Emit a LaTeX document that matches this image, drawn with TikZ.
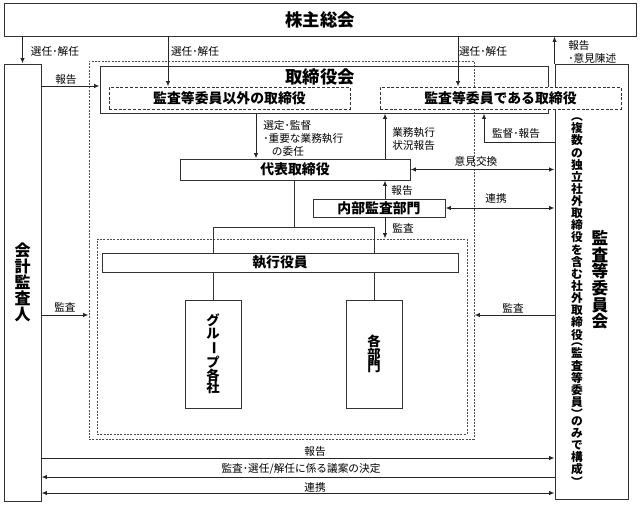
\documentclass[tikz,border=0pt]{standalone}
\usepackage{fontspec}
\setmainfont{Noto Sans CJK JP}
\usetikzlibrary{arrows.meta,fit}

\tikzset{
  box/.style={draw=black!80, line width=0.7pt, inner sep=0pt},
  dashbox/.style={box, fill=white, dash pattern=on 2.2pt off 1.4pt},
  dotframe/.style={draw=black!70, line width=0.7pt, inner sep=0pt, dash pattern=on 1.5pt off 1pt},
  boxtxt/.style={font=\fontsize{10.4}{12}\selectfont\bfseries, inner sep=0pt},
  ttl/.style={font=\fontsize{13}{15}\selectfont\bfseries, inner sep=0pt},
  lbl/.style={font=\fontsize{8}{9.5}\selectfont, inner sep=0pt},
  tate/.style={align=center, inner sep=0pt},
  arr/.style={draw=black!85, line width=0.7pt, -{Latex[length=4pt,width=3.2pt]}},
  dbl/.style={draw=black!85, line width=0.7pt, {Latex[length=4pt,width=3.2pt]}-{Latex[length=4pt,width=3.2pt]}},
  conn/.style={draw=black!80, line width=0.7pt},
}

\begin{document}
\begin{tikzpicture}[x=0.75pt, y=-0.75pt]
  \useasboundingbox (0,0) rectangle (640,506);

  % dotted frames
  \node[dotframe, fit={(89,61) (474,439)}] (outer) {};
  \node[dotframe, fit={(97,239) (467,434)}] (inner) {};

  % boxes
  \node[box, fit={(4,3) (636,36)}, label={[ttl]center:株主総会}] (soukai) {};
  \node[box, fit={(4,64) (41,501)},
    label={[tate, font=\fontsize{12}{12}\selectfont\bfseries]center:{会\\計\\監\\査\\人}}] (kaikei) {};
  \node[box, fit={(555,64) (628,499)}] (iinkai) {};
  \node[tate, font=\fontsize{8.8}{9.1}\selectfont\bfseries] (iinkaiSub) at (577,302)
    {︵\\複\\数\\の\\独\\立\\社\\外\\取\\締\\役\\を\\含\\む\\社\\外\\取\\締\\役\\[-4pt]︵\\監\\査\\等\\委\\員\\︶\\[-4pt]の\\み\\で\\構\\成\\︶};
  \node[tate, font=\fontsize{12.5}{12.5}\selectfont\bfseries] (iinkaiName) at (600,280) {監\\査\\等\\委\\員\\会};
  \node[box, fit={(100,66) (548,113)}] (torikai) {};
  \node[ttl] (torikaiName) at (320,77) {取締役会};
  \node[dashbox, fit={(109,87) (350,109)}, label={[boxtxt]center:監査等委員以外の取締役}] (igai) {};
  \node[dashbox, fit={(380,87) (621,109)}, label={[boxtxt]center:監査等委員である取締役}] (dearu) {};
  \node[box, fit={(180,159) (410,180)}, label={[boxtxt]center:代表取締役}] (daihyo) {};
  \node[box, fit={(313,199) (445,217)}, label={[boxtxt]center:内部監査部門}] (naibu) {};
  \node[box, fit={(102,253) (458,272)}, label={[boxtxt]center:執行役員}] (shikko) {};
  \node[box, fit={(185,300) (241,408)},
    label={[boxtxt, tate, font=\fontsize{10}{9.5}\selectfont\bfseries]center:{グ\\ル\\\rotatebox[origin=c]{-90}{ー}\\プ\\各\\社}}] (group) {};
  \node[box, fit={(346,300) (402,408)},
    label={[boxtxt, tate, font=\fontsize{10}{9.5}\selectfont\bfseries]center:{各\\部\\門}}] (kakubu) {};

  % helper columns and rows
  \foreach \n/\v in {B/168, C/458, E/256, F/385, G/484, T/294}
    \coordinate (x\n) at (\v,0);
  \foreach \v in {86, 142, 227, 315, 458, 477, 493}
    \coordinate (y\v) at (0,\v);

  % connectors
  \draw[arr] (soukai.south -| kaikei.north) -- (kaikei.north);
  \draw[arr] (soukai.south -| xB) -- (igai.north -| xB);
  \draw[arr] (soukai.south -| xC) -- (dearu.north -| xC);
  \draw[arr] (iinkai.north west) -- (iinkai.north west |- soukai.south);
  \draw[arr] (kaikei.east |- y86) -- (torikai.west |- y86);
  \draw[arr] (torikai.south -| xE) -- (daihyo.north -| xE);
  \draw[arr] (daihyo.north -| xF) -- (torikai.south -| xF);
  \draw[arr] (iinkai.west |- y142) -| (torikai.south -| xG);
  \draw[dbl] (daihyo.east) -- (daihyo.east -| iinkai.west);
  \draw[arr] (naibu.north -| xF) -- (daihyo.south -| xF);
  \draw[dbl] (naibu.east) -- (naibu.east -| iinkai.west);
  \draw[arr] (naibu.south -| xF) -- (inner.north -| xF);
  \draw[conn] (daihyo.south -| xT) -- (xT |- y227);
  \draw[conn] (shikko.north -| group.north) |- (y227 -| kakubu.north) -- (shikko.north -| kakubu.north);
  \draw[conn] (shikko.south -| group.north) -- (group.north);
  \draw[conn] (shikko.south -| kakubu.north) -- (kakubu.north);
  \draw[arr] (kaikei.east |- y315) -- (outer.west |- y315);
  \draw[arr] (iinkai.west |- y315) -- (outer.east |- y315);
  \draw[arr] (kaikei.east |- y458) -- (iinkai.west |- y458);
  \draw[arr] (iinkai.west |- y477) -- (kaikei.east |- y477);
  \draw[dbl] (kaikei.east |- y493) -- (iinkai.west |- y493);

  % labels
  \node[lbl] (lSel1) at (55,51) {選任･解任};
  \node[lbl] (lSel2) at (195,51) {選任･解任};
  \node[lbl] (lSel3) at (483,51) {選任･解任};
  \node[lbl, align=left, anchor=west] (lIken) at (568,52) {報告\\･意見陳述};
  \node[lbl] (lRep1) at (66,79) {報告};
  \node[lbl, align=left, anchor=west, font=\fontsize{8}{10}\selectfont] (lSentei) at (263,138.5)
    {選定･監督\\･重要な業務執行\\\hspace*{6.5pt}の委任};
  \node[lbl, align=left, anchor=west, font=\fontsize{8}{9.75}\selectfont] (lGyomu) at (392,138.5) {業務執行\\状況報告};
  \node[lbl] (lKantoku) at (516,133) {監督･報告};
  \node[lbl] (lKoukan) at (476,161) {意見交換};
  \node[lbl] (lRep2) at (402,190) {報告};
  \node[lbl] (lRenkei1) at (496,198) {連携};
  \node[lbl] (lKansa1) at (403,228) {監査};
  \node[lbl] (lKansa2) at (65,307) {監査};
  \node[lbl] (lKansa3) at (513,308) {監査};
  \node[lbl] (lRep3) at (315,451) {報告};
  \node[lbl] (lKetei) at (301,469) {監査･選任/解任に係る議案の決定};
  \node[lbl] (lRenkei2) at (315,487) {連携};
\end{tikzpicture}
\end{document}
